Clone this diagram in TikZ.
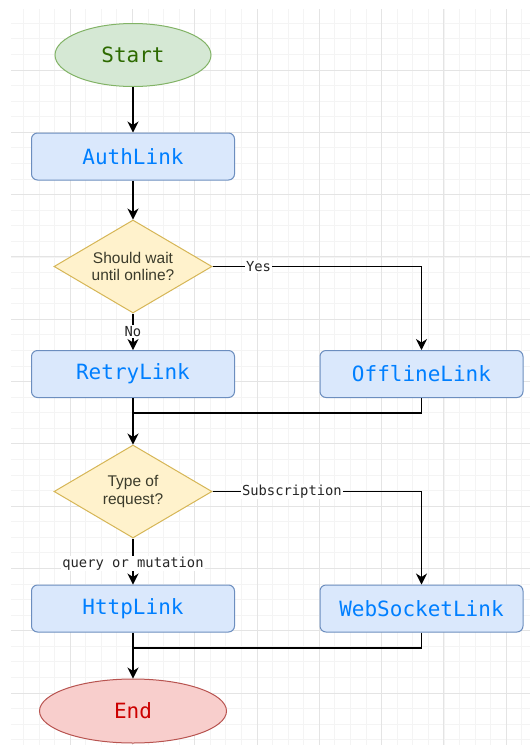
\documentclass[tikz,border=0pt]{standalone}
\usepackage{fontspec}
\setmainfont{Liberation Sans}
\newfontfamily\monof{DejaVu Sans Mono}
\usetikzlibrary{shapes.geometric,arrows.meta}
\definecolor{gminor}{HTML}{F4F4F4}
\definecolor{gmajor}{HTML}{E4E4E4}
\definecolor{stfill}{HTML}{D5E8D4}
\definecolor{stdraw}{HTML}{82B366}
\definecolor{sttext}{HTML}{2D6A00}
\definecolor{enfill}{HTML}{F8CECC}
\definecolor{endraw}{HTML}{B85450}
\definecolor{entext}{HTML}{CC0000}
\definecolor{bxfill}{HTML}{DAE8FC}
\definecolor{bxdraw}{HTML}{6C8EBF}
\definecolor{bxtext}{HTML}{007FFF}
\definecolor{dmfill}{HTML}{FFF2CC}
\definecolor{dmdraw}{HTML}{D6B656}
\definecolor{dmtext}{HTML}{3B3B2B}
\tikzset{
  terminal/.style={ellipse, inner sep=0pt, line width=1pt, font=\monof\fontsize{21}{24}\selectfont},
  linkbox/.style={rectangle, rounded corners=6pt, inner sep=0pt, minimum width=203pt, minimum height=47pt,
    fill=bxfill, draw=bxdraw, line width=1pt, text=bxtext, font=\monof\fontsize{21}{24}\selectfont},
  decision/.style={diamond, aspect=1.7, inner sep=0pt, minimum width=158pt, minimum height=93pt,
    fill=dmfill, draw=dmdraw, line width=1pt, text=dmtext, align=center,
    font=\fontsize{15.5}{17.5}\selectfont},
  conn/.style={draw=black, line width=1.3pt, -{Stealth[length=11pt,width=11pt,inset=3.5pt]}},
  joinline/.style={draw=black, line width=1.3pt},
  lbl/.style={fill=white, inner sep=1pt, text=black!85, font=\monof\fontsize{13.8}{15}\selectfont}
}
\begin{document}
\begin{tikzpicture}[x=1pt,y=-1pt]
\useasboundingbox (0,0) rectangle (530,745);
\fill[white] (0,0) rectangle (530,745);
\begin{scope}
\clip (11,9) rectangle (530,745);
\foreach \i in {-4,...,30} {
  \draw[gminor, line width=0.8pt] ({70.1+15.575*\i},9) -- ({70.1+15.575*\i},745);
}
\foreach \i in {-4,...,44} {
  \draw[gminor, line width=0.8pt] (11,{70+15.575*\i}) -- (530,{70+15.575*\i});
}
\foreach \i in {0,...,7} {
  \draw[gmajor, line width=0.9pt] ({70.1+62.3*\i},9) -- ({70.1+62.3*\i},745);
}
\foreach \i in {0,...,11} {
  \draw[gmajor, line width=0.9pt] (11,{70+62.3*\i}) -- (530,{70+62.3*\i});
}
\end{scope}

\node[terminal, fill=stfill, draw=stdraw, text=sttext, minimum width=156pt, minimum height=63pt] (start) at (133,55) {Start};
\node[linkbox] (auth) at (133,156.5) {AuthLink};
\node[decision] (d1) at (133,266.5) {Should wait\\until online?};
\node[linkbox] (retry) at (133,374) {RetryLink};
\node[linkbox] (offline) at (421.5,374) {OfflineLink};
\node[decision] (d2) at (133,491.5) {Type of\\request?};
\node[linkbox] (http) at (133,608.5) {HttpLink};
\node[linkbox] (ws) at (421.5,608.5) {WebSocketLink};
\node[terminal, fill=enfill, draw=endraw, text=entext, minimum width=187pt, minimum height=64pt] (end) at (133,711) {End};

\coordinate (m1) at (133,413);
\coordinate (m2) at (133,648);

\draw[conn] (start) -- (auth);
\draw[conn] (auth) -- (d1);
\draw[conn] (d1.east) -| node[lbl, pos=0.11] {Yes} (offline.north);
\draw[conn] (d1.south) -- node[lbl, pos=0.49] {No} (retry.north);
\draw[conn] (retry) -- (d2);
\draw[joinline] (offline.south) |- (m1);
\draw[conn] (d2.east) -| node[lbl, pos=0.19] {Subscription} (ws.north);
\draw[conn] (d2.south) -- node[lbl, pos=0.55] {query or mutation} (http.north);
\draw[conn] (http) -- (end);
\draw[joinline] (ws.south) |- (m2);
\end{tikzpicture}
\end{document}
